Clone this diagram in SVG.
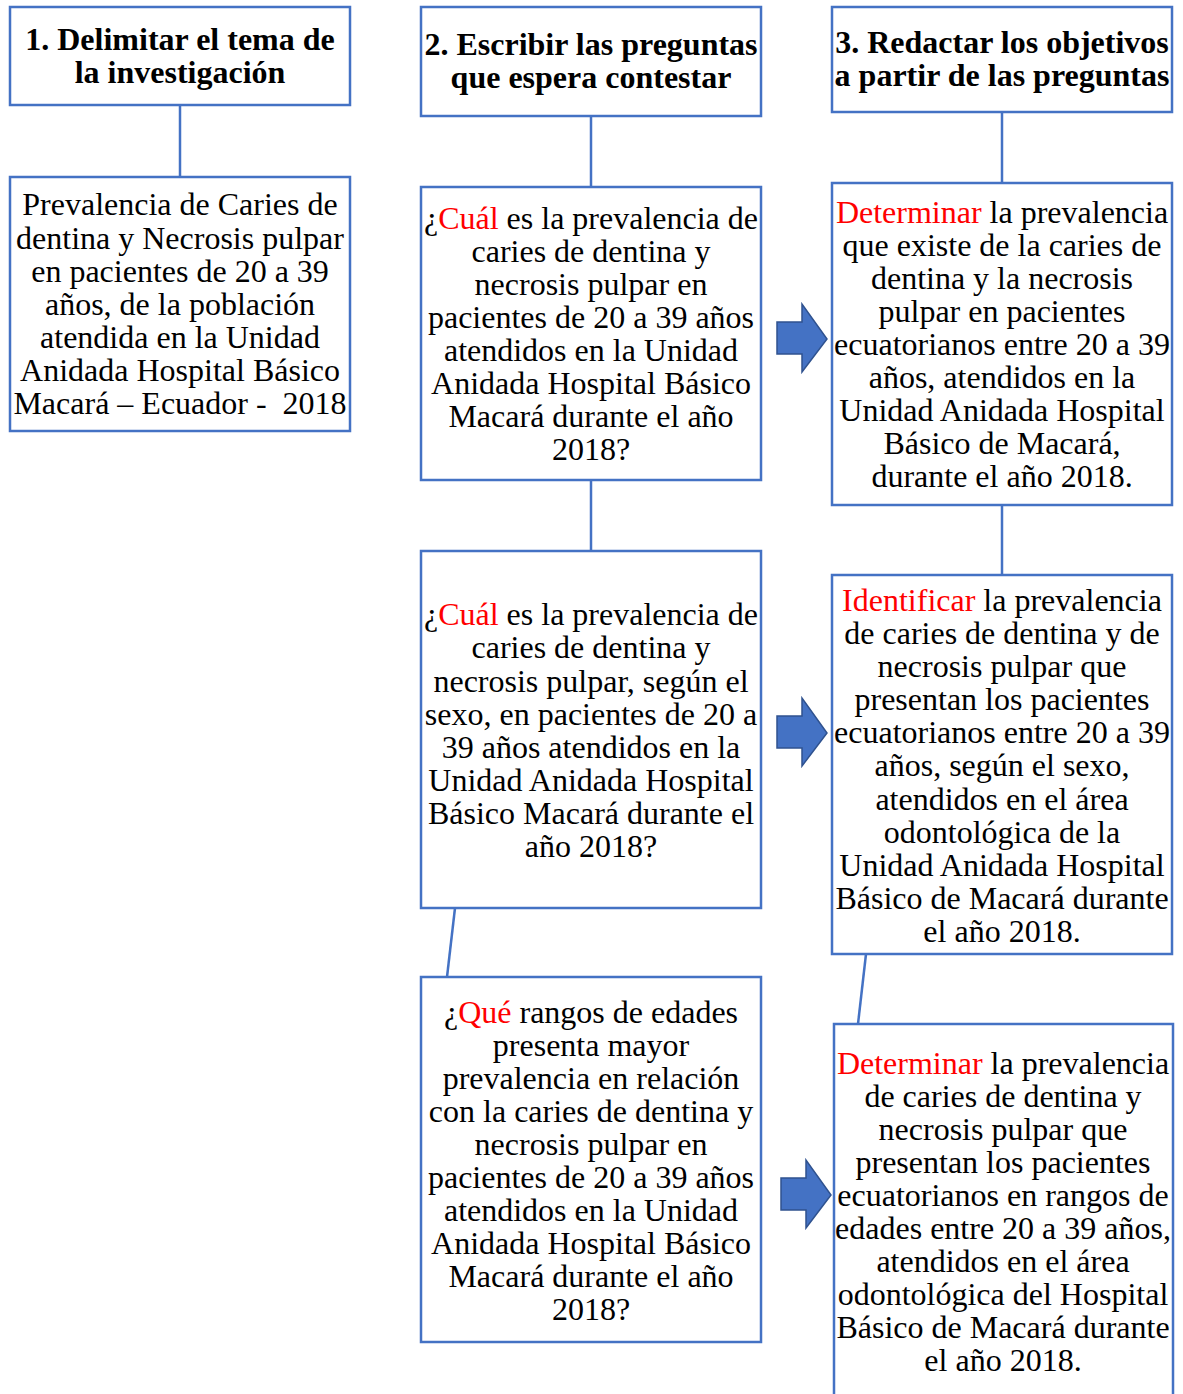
<svg xmlns="http://www.w3.org/2000/svg" width="1183" height="1394" viewBox="0 0 1183 1394">
<style>
.box{fill:#fff;stroke:#4472C4;stroke-width:2.5}
.con{stroke:#4472C4;stroke-width:2.5;fill:none}
.arr{fill:#4472C4;stroke:#2F528F;stroke-width:1.5}
text{font-size:32px;fill:#000;text-anchor:middle}
.h{font-weight:bold;font-size:32px}
.r{fill:#FF0000}
</style>
<defs>
<path id="blk" d="M0,-16 H25 V-34 L50,1 L25,34 V16 H0 Z"/>
</defs>
<rect width="1183" height="1394" fill="#fff"/>
<g id="connectors">
<line class="con" x1="180" y1="105" x2="180" y2="177"/>
<line class="con" x1="591" y1="116" x2="591" y2="187"/>
<line class="con" x1="591" y1="480" x2="591" y2="551"/>
<line class="con" x1="455" y1="908" x2="447" y2="977"/>
<line class="con" x1="1002" y1="112" x2="1002" y2="183"/>
<line class="con" x1="1002" y1="505" x2="1002" y2="575"/>
<line class="con" x1="866" y1="954" x2="858" y2="1024"/>
<use href="#blk" class="arr" transform="translate(777,338)"/>
<use href="#blk" class="arr" transform="translate(777,732)"/>
<use href="#blk" class="arr" transform="translate(781,1194)"/>
</g>
<g font-family="Liberation Serif, Times New Roman, serif">
<g id="h1"><rect class="box" x="10" y="7" width="340" height="98"/>
<text class="h" x="180" y="50">1. Delimitar el tema de</text>
<text class="h" x="180" y="83">la investigación</text></g>
<g id="h2"><rect class="box" x="421" y="7" width="340" height="109"/>
<text class="h" x="591" y="55">2. Escribir las preguntas</text>
<text class="h" x="591" y="88">que espera contestar</text></g>
<g id="h3"><rect class="box" x="832" y="7" width="340" height="105"/>
<text class="h" x="1002" y="53">3. Redactar los objetivos</text>
<text class="h" x="1002" y="86">a partir de las preguntas</text></g>
<g id="n1"><rect class="box" x="10" y="177" width="340" height="254"/>
<text x="180" y="215">Prevalencia de Caries de</text>
<text x="180" y="249">dentina y Necrosis pulpar</text>
<text x="180" y="282">en pacientes de 20 a 39</text>
<text x="180" y="315">años, de la población</text>
<text x="180" y="348">atendida en la Unidad</text>
<text x="180" y="381">Anidada Hospital Básico</text>
<text x="180" y="414">Macará – Ecuador - &#160;2018</text></g>
<g id="q1"><rect class="box" x="421" y="187" width="340" height="293"/>
<text x="591" y="229">¿<tspan class="r">Cuál</tspan> es la prevalencia de</text>
<text x="591" y="262">caries de dentina y</text>
<text x="591" y="295">necrosis pulpar en</text>
<text x="591" y="328">pacientes de 20 a 39 años</text>
<text x="591" y="361">atendidos en la Unidad</text>
<text x="591" y="394">Anidada Hospital Básico</text>
<text x="591" y="427">Macará durante el año</text>
<text x="591" y="460">2018?</text></g>
<g id="o1"><rect class="box" x="832" y="183" width="340" height="322"/>
<text x="1002" y="223"><tspan class="r">Determinar</tspan> la prevalencia</text>
<text x="1002" y="256">que existe de la caries de</text>
<text x="1002" y="289">dentina y la necrosis</text>
<text x="1002" y="322">pulpar en pacientes</text>
<text x="1002" y="355">ecuatorianos entre 20 a 39</text>
<text x="1002" y="388">años, atendidos en la</text>
<text x="1002" y="421">Unidad Anidada Hospital</text>
<text x="1002" y="454">Básico de Macará,</text>
<text x="1002" y="487">durante el año 2018.</text></g>
<g id="q2"><rect class="box" x="421" y="551" width="340" height="357"/>
<text x="591" y="625">¿<tspan class="r">Cuál</tspan> es la prevalencia de</text>
<text x="591" y="658">caries de dentina y</text>
<text x="591" y="692">necrosis pulpar, según el</text>
<text x="591" y="725">sexo, en pacientes de 20 a</text>
<text x="591" y="758">39 años atendidos en la</text>
<text x="591" y="791">Unidad Anidada Hospital</text>
<text x="591" y="824">Básico Macará durante el</text>
<text x="591" y="857">año 2018?</text></g>
<g id="o2"><rect class="box" x="832" y="575" width="340" height="379"/>
<text x="1002" y="611"><tspan class="r">Identificar</tspan> la prevalencia</text>
<text x="1002" y="644">de caries de dentina y de</text>
<text x="1002" y="677">necrosis pulpar que</text>
<text x="1002" y="710">presentan los pacientes</text>
<text x="1002" y="743">ecuatorianos entre 20 a 39</text>
<text x="1002" y="776">años, según el sexo,</text>
<text x="1002" y="810">atendidos en el área</text>
<text x="1002" y="843">odontológica de la</text>
<text x="1002" y="876">Unidad Anidada Hospital</text>
<text x="1002" y="909">Básico de Macará durante</text>
<text x="1002" y="942">el año 2018.</text></g>
<g id="q3"><rect class="box" x="421" y="977" width="340" height="365"/>
<text x="591" y="1023">¿<tspan class="r">Qué</tspan> rangos de edades</text>
<text x="591" y="1056">presenta mayor</text>
<text x="591" y="1089">prevalencia en relación</text>
<text x="591" y="1122">con la caries de dentina y</text>
<text x="591" y="1155">necrosis pulpar en</text>
<text x="591" y="1188">pacientes de 20 a 39 años</text>
<text x="591" y="1221">atendidos en la Unidad</text>
<text x="591" y="1254">Anidada Hospital Básico</text>
<text x="591" y="1287">Macará durante el año</text>
<text x="591" y="1320">2018?</text></g>
<g id="o3"><rect class="box" x="834" y="1024" width="339" height="380"/>
<text x="1003" y="1074"><tspan class="r">Determinar</tspan> la prevalencia</text>
<text x="1003" y="1107">de caries de dentina y</text>
<text x="1003" y="1140">necrosis pulpar que</text>
<text x="1003" y="1173">presentan los pacientes</text>
<text x="1003" y="1206">ecuatorianos en rangos de</text>
<text x="1003" y="1239">edades entre 20 a 39 años,</text>
<text x="1003" y="1272">atendidos en el área</text>
<text x="1003" y="1305">odontológica del Hospital</text>
<text x="1003" y="1338">Básico de Macará durante</text>
<text x="1003" y="1371">el año 2018.</text></g>
</g>
</svg>
